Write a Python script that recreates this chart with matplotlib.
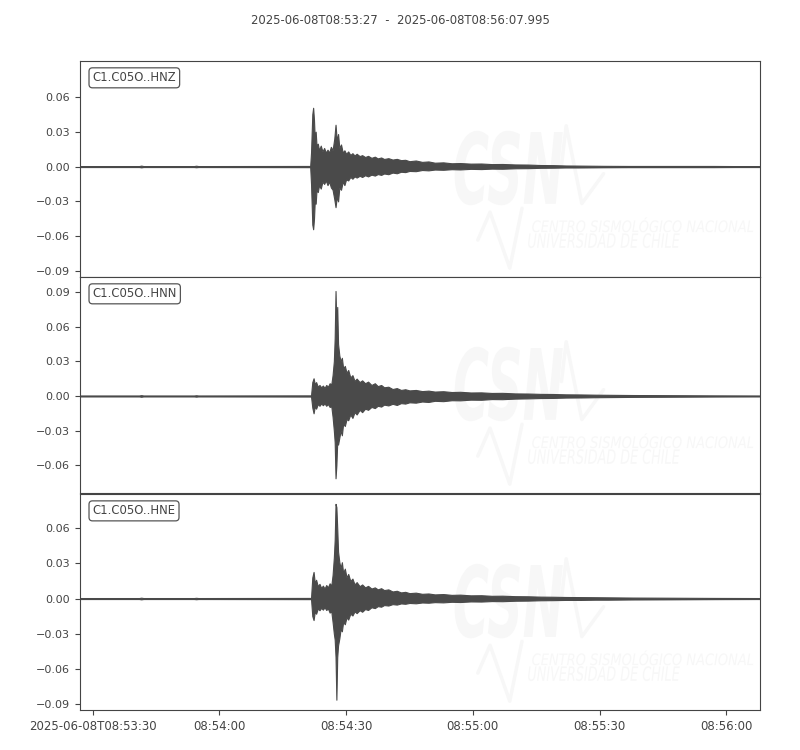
import numpy as np
import pandas as pd
import matplotlib
matplotlib.use('Agg')
import matplotlib.pyplot as plt
import matplotlib.dates as mdates
from matplotlib.textpath import TextPath
from matplotlib.font_manager import FontProperties
from matplotlib.patches import PathPatch
from matplotlib.transforms import Affine2D
from matplotlib.ticker import FuncFormatter

# trace envelopes (min/max per time step)
start = '2025-06-08T08:53:27'
end = '2025-06-08T08:56:07.995'
title = '2025-06-08T08:53:27  -  2025-06-08T08:56:07.995'

labels = ['C1.C05O..HNZ', 'C1.C05O..HNN', 'C1.C05O..HNE']

# seconds after start
t_z = [0, 14, 14.5, 15, 27, 27.5, 28,
       54.5, 54.7, 55.0, 55.2, 55.4, 55.6, 55.8, 56.0, 56.3, 56.6, 57.0, 57.4, 57.8, 58.2, 58.6, 59.0,
       59.4, 59.8, 60.2, 60.5, 60.8, 61.1, 61.4, 61.8, 62.2, 62.6, 63.0, 63.5, 64.0, 64.5, 65.0, 65.5,
       66.2, 66.8, 67.5, 68.2, 69, 69.8, 70.5, 71.3, 72, 73, 74, 75, 76, 77, 78, 79.5, 81, 82.5, 84,
       86, 88, 90, 92.5, 95, 97.5, 100, 103, 106, 109, 112, 115, 118, 124, 130, 140, 150, 155, 160.995]
up_z = [0.0004, 0.0004, 0.0008, 0.0004, 0.0004, 0.0007, 0.0004,
        0.0005, 0.012, 0.045, 0.0506, 0.040, 0.022, 0.030, 0.018, 0.0197, 0.014, 0.018, 0.013, 0.016,
        0.012, 0.0145, 0.012, 0.017, 0.014, 0.024, 0.036, 0.022, 0.028, 0.016, 0.019, 0.012, 0.014,
        0.011, 0.013, 0.010, 0.0115, 0.0095, 0.011, 0.009, 0.0098, 0.0082, 0.0092, 0.0075, 0.0085,
        0.007, 0.0078, 0.0065, 0.0072, 0.006, 0.0066, 0.0055, 0.0058, 0.0046, 0.0052, 0.004, 0.0044,
        0.0033, 0.0036, 0.0028, 0.003, 0.0025, 0.0026, 0.0021, 0.0022, 0.0018, 0.0017, 0.0013, 0.0012,
        0.0009, 0.0008, 0.0006, 0.0005, 0.0005, 0.0005, 0.0004, 0.0004]
lo_z = [-0.0004, -0.0004, -0.0007, -0.0004, -0.0004, -0.0006, -0.0004,
        -0.0005, -0.015, -0.050, -0.054, -0.045, -0.028, -0.032, -0.020, -0.022, -0.016, -0.019, -0.013,
        -0.015, -0.012, -0.016, -0.013, -0.018, -0.020, -0.028, -0.035, -0.026, -0.030, -0.018, -0.020,
        -0.013, -0.016, -0.011, -0.012, -0.009, -0.0105, -0.0085, -0.0095, -0.008, -0.009, -0.0075,
        -0.0085, -0.007, -0.0078, -0.0065, -0.0072, -0.006, -0.0066, -0.0052, -0.0058, -0.0045, -0.0048,
        -0.0038, -0.004, -0.003, -0.0033, -0.0026, -0.0028, -0.0023, -0.0025, -0.002, -0.0022, -0.0018,
        -0.0019, -0.0015, -0.0014, -0.0011, -0.001, -0.0008, -0.0008, -0.0006, -0.0005, -0.0005,
        -0.0005, -0.0004, -0.0004]

# HNN and HNE share one time grid
t_ne = [0, 14, 14.5, 15, 27, 27.5, 28,
        54.7, 55.0, 55.3, 55.6, 55.9, 56.3, 56.7, 57.1, 57.5, 57.9, 58.3, 58.7, 59.1, 59.5, 59.8, 60.1,
        60.3, 60.5, 60.7, 60.9, 61.1, 61.4, 61.7, 62.0, 62.3, 62.7, 63.1, 63.5, 64.0, 64.5, 65.0, 65.5,
        66.2, 66.8, 67.5, 68.2, 69, 69.8, 70.5, 71.3, 72, 73, 74, 75, 76, 77, 78, 79.5, 81, 82.5, 84,
        86, 88, 90, 92.5, 95, 97.5, 100, 103, 106, 109, 112, 115, 118.6, 122, 125, 131, 138, 144, 150,
        160.995]
up_n = [0.0004, 0.0004, 0.0007, 0.0004, 0.0004, 0.0006, 0.0004,
        0.0005, 0.012, 0.0153, 0.010, 0.012, 0.008, 0.0095, 0.0075, 0.009, 0.007, 0.0095, 0.008, 0.011,
        0.010, 0.018, 0.030, 0.050, 0.0908, 0.060, 0.077, 0.045, 0.035, 0.030, 0.033, 0.024, 0.026,
        0.020, 0.0225, 0.016, 0.018, 0.013, 0.015, 0.012, 0.0135, 0.011, 0.0124, 0.0095, 0.011, 0.0085,
        0.0095, 0.0075, 0.008, 0.006, 0.0068, 0.0052, 0.0058, 0.0048, 0.0052, 0.0042, 0.0046, 0.0038,
        0.0041, 0.0034, 0.0036, 0.003, 0.0031, 0.0026, 0.0027, 0.0022, 0.0021, 0.0018, 0.0017, 0.0014,
        0.0013, 0.0011, 0.001, 0.0008, 0.0007, 0.0006, 0.0005, 0.0004]
lo_n = [-0.0004, -0.0004, -0.0007, -0.0004, -0.0004, -0.0006, -0.0004,
        -0.0005, -0.010, -0.015, -0.009, -0.011, -0.007, -0.0085, -0.0065, -0.008, -0.0065, -0.0085,
        -0.007, -0.0095, -0.009, -0.018, -0.030, -0.040, -0.0712, -0.060, -0.040, -0.042, -0.036, -0.030,
        -0.034, -0.024, -0.026, -0.020, -0.021, -0.016, -0.019, -0.014, -0.016, -0.012, -0.014, -0.011,
        -0.012, -0.0095, -0.0105, -0.0085, -0.0092, -0.0075, -0.0082, -0.0068, -0.0078, -0.0062,
        -0.0066, -0.0055, -0.0058, -0.0048, -0.0052, -0.0042, -0.0045, -0.0037, -0.0038, -0.0032,
        -0.0033, -0.0027, -0.0028, -0.0023, -0.0021, -0.0018, -0.0017, -0.0014, -0.0013, -0.0011,
        -0.001, -0.0008, -0.0007, -0.0006, -0.0005, -0.0004]
up_e = [0.0004, 0.0004, 0.0007, 0.0004, 0.0004, 0.0006, 0.0004,
        0.0005, 0.018, 0.0227, 0.013, 0.016, 0.0105, 0.0125, 0.009, 0.011, 0.0085, 0.0115, 0.0095,
        0.013, 0.011, 0.020, 0.035, 0.050, 0.0808, 0.078, 0.060, 0.040, 0.031, 0.026, 0.031, 0.022,
        0.0255, 0.018, 0.021, 0.015, 0.017, 0.012, 0.014, 0.0105, 0.012, 0.0095, 0.0108, 0.0085, 0.0095,
        0.0078, 0.0088, 0.0072, 0.0078, 0.006, 0.0066, 0.0052, 0.0057, 0.0046, 0.005, 0.004, 0.0043,
        0.0035, 0.0038, 0.0031, 0.0033, 0.0027, 0.0028, 0.0023, 0.0024, 0.002, 0.0019, 0.0016, 0.0015,
        0.0013, 0.0012, 0.0011, 0.001, 0.0008, 0.0007, 0.0006, 0.0005, 0.0004]
lo_e = [-0.0004, -0.0004, -0.0007, -0.0004, -0.0004, -0.0006, -0.0004,
        -0.0005, -0.015, -0.0184, -0.011, -0.013, -0.0085, -0.010, -0.008, -0.0095, -0.0075, -0.0098,
        -0.0085, -0.012, -0.011, -0.020, -0.030, -0.035, -0.050, -0.0864, -0.050, -0.040, -0.034,
        -0.026, -0.028, -0.020, -0.022, -0.016, -0.018, -0.013, -0.0145, -0.011, -0.0125, -0.010,
        -0.0113, -0.009, -0.0098, -0.0075, -0.0082, -0.0065, -0.007, -0.0056, -0.006, -0.0048, -0.0052,
        -0.0042, -0.0045, -0.0038, -0.0041, -0.0034, -0.0036, -0.0031, -0.0033, -0.0028, -0.003,
        -0.0025, -0.0026, -0.0022, -0.0023, -0.0019, -0.0018, -0.0015, -0.0014, -0.0012, -0.0012,
        -0.001, -0.001, -0.0008, -0.0007, -0.0006, -0.0005, -0.0004]

ylims = [(-0.0951, 0.0909), (-0.0839, 0.1029), (-0.0952, 0.0892)]
yticks = [[-0.09, -0.06, -0.03, 0.0, 0.03, 0.06],
          [-0.06, -0.03, 0.0, 0.03, 0.06, 0.09],
          [-0.09, -0.06, -0.03, 0.0, 0.03, 0.06]]
xtick_times = ['08:53:30', '08:54:00', '08:54:30', '08:55:00', '08:55:30', '08:56:00']

traces = [(t_z, up_z, lo_z), (t_ne, up_n, lo_n), (t_ne, up_e, lo_e)]

grey = '#444444'
trace_col = '#4a4a4a'
wm_col = '#f7f7f7'

plt.rcParams['text.color'] = grey
plt.rcParams['axes.edgecolor'] = grey
plt.rcParams['xtick.color'] = grey
plt.rcParams['ytick.color'] = grey


def watermark_text(ax, s, x0, x1, y0, y1, style='italic', weight='normal'):
    # stretch a text path into a box given in axes fractions
    tp = TextPath((0, 0), s, size=10, prop=FontProperties(family='DejaVu Sans', style=style, weight=weight))
    bb = tp.get_extents()
    tr = (Affine2D().translate(-bb.x0, -bb.y0)
          .scale((x1 - x0) / bb.width, (y1 - y0) / bb.height)
          .translate(x0, y0) + ax.transAxes)
    ax.add_patch(PathPatch(tp, transform=tr, facecolor=wm_col, edgecolor='none', zorder=0))


t0 = pd.Timestamp(start)
xmin = mdates.date2num(t0)
xmax = mdates.date2num(pd.Timestamp(end))

fig = plt.figure(figsize=(8, 7.5), dpi=100)
fig.suptitle(title, y=0.981, fontsize=8.4, color=grey)

left, width = 0.1, 0.85
bottoms = [0.6307, 0.3427, 0.0533]
height = 0.2880

axes = []
for i, (tt, up, lo) in enumerate(traces):
    ax = fig.add_axes([left, bottoms[i], width, height])
    axes.append(ax)
    x = mdates.date2num(t0 + pd.to_timedelta(np.array(tt), unit='s'))

    # watermark logo
    watermark_text(ax, 'CSN', 0.551, 0.710, 0.332, 0.677, weight='bold')
    watermark_text(ax, 'CENTRO SISMOLÓGICO NACIONAL', 0.665, 0.990, 0.207, 0.276)
    watermark_text(ax, 'UNIVERSIDAD DE CHILE', 0.659, 0.882, 0.134, 0.203)
    ax.plot([0.708, 0.715, 0.738, 0.770], [0.516, 0.700, 0.340, 0.478], color=wm_col, lw=2.5,
            transform=ax.transAxes, zorder=0, solid_capstyle='round')
    ax.plot([0.585, 0.603, 0.632, 0.650], [0.171, 0.300, 0.041, 0.318], color=wm_col, lw=2.5,
            transform=ax.transAxes, zorder=0, solid_capstyle='round')

    ax.fill_between(x, lo, up, color=trace_col, lw=0.8, zorder=2)
    ax.plot(x, np.zeros(len(x)), color=trace_col, lw=0.8, zorder=2)

    ax.set_xlim(xmin, xmax)
    ax.set_ylim(*ylims[i])
    ax.set_yticks(yticks[i])
    ax.yaxis.set_major_formatter(FuncFormatter(lambda v, p: ('%.2f' % v).replace('-', '\u2212')))
    ax.tick_params(axis='y', labelsize=8, length=3.5, width=0.8)
    for sp in ax.spines.values():
        sp.set_linewidth(0.8)

    ax.text(0.0184, 0.922, labels[i], transform=ax.transAxes, fontsize=8.4, va='center', ha='left',
            color=grey, zorder=5,
            bbox=dict(boxstyle='round,pad=0.3', facecolor='white', edgecolor='#555555', lw=0.9))

    if i < 2:
        ax.set_xticks([])

# x ticks only on bottom panel
xt = [mdates.date2num(pd.Timestamp('2025-06-08T' + s)) for s in xtick_times]
xl = ['2025-06-08T' + xtick_times[0]] + xtick_times[1:]
axes[2].set_xticks(xt)
axes[2].set_xticklabels(xl)
axes[2].tick_params(axis='x', labelsize=8.5, length=3.5, width=0.8)

fig.savefig('out.png', dpi=100)
